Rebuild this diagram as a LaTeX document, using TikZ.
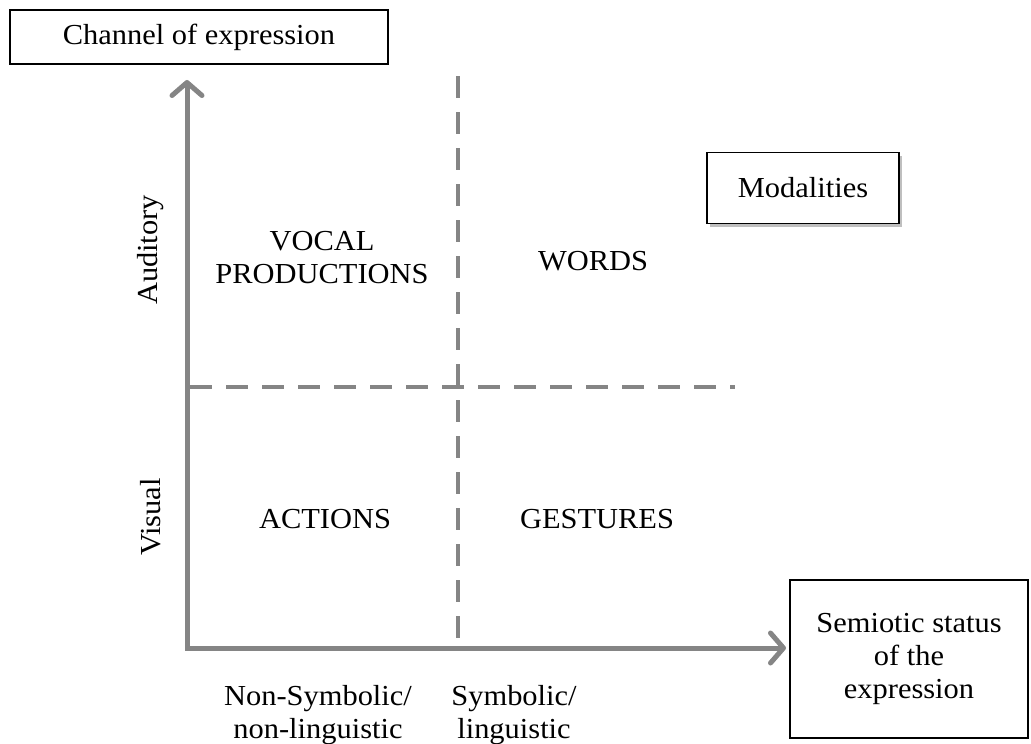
\documentclass[tikz,border=0pt]{standalone}
\usepackage{fontspec}
\setmainfont{Liberation Serif}[FakeStretch=1.05]
\usetikzlibrary{arrows.meta,shadows}
\definecolor{axisgray}{HTML}{858585}
\begin{document}
\begin{tikzpicture}[x=1pt,y=-1pt,
  every node/.style={font=\fontsize{29}{33}\selectfont, align=center, inner sep=0pt},
  axisline/.style={draw=axisgray, line width=5pt, line join=miter,
    {Straight Barb[length=13pt,width=30pt,round]}-{Straight Barb[length=13pt,width=30pt,round]}},
  dashline/.style={draw=axisgray, line width=4.5pt, dash pattern=on 22pt off 14pt},
  labelbox/.style={draw=black, line width=1.8pt, fill=white}]
\useasboundingbox (0,0) rectangle (1031,744);
% boxes
\node[labelbox, minimum width=378pt, minimum height=54pt] (chan) at (199,37) {Channel of expression};
\node[labelbox, minimum width=192pt, minimum height=71pt,
  drop shadow={shadow xshift=3pt, shadow yshift=-3pt, fill=black, opacity=0.25}] (mod) at (803,188) {Modalities};
\node[labelbox, minimum width=238pt, minimum height=158pt] (sem) at (909,659) {Semiotic status\\of the\\expression};
% axes
\coordinate (ytip) at (187,80);
\coordinate (O) at (187,648);
\coordinate (xtip) at (786,648);
\draw[axisline] (ytip) -- (O) -- (xtip);
% dashed dividers
\coordinate (vtop) at (458,76);
\coordinate (vbot) at (458,646);
\coordinate (hl) at (190,387);
\coordinate (hr) at (735,387);
\draw[dashline] (vtop) -- (vbot);
\draw[dashline] (hl) -- (hr);
% labels
\node[rotate=90] (aud) at (151,250) {Auditory};
\node[rotate=90] (vis) at (151,517) {Visual};
\node (vocal) at (322,258) {VOCAL\\PRODUCTIONS};
\node (words) at (593,261) {WORDS};
\node (act) at (325,519) {ACTIONS};
\node (gest) at (597,519) {GESTURES};
\node (nonsym) at (318,715) {Non-Symbolic/\\non-linguistic};
\node (sym) at (514,715) {Symbolic/\\linguistic};
\end{tikzpicture}
\end{document}
